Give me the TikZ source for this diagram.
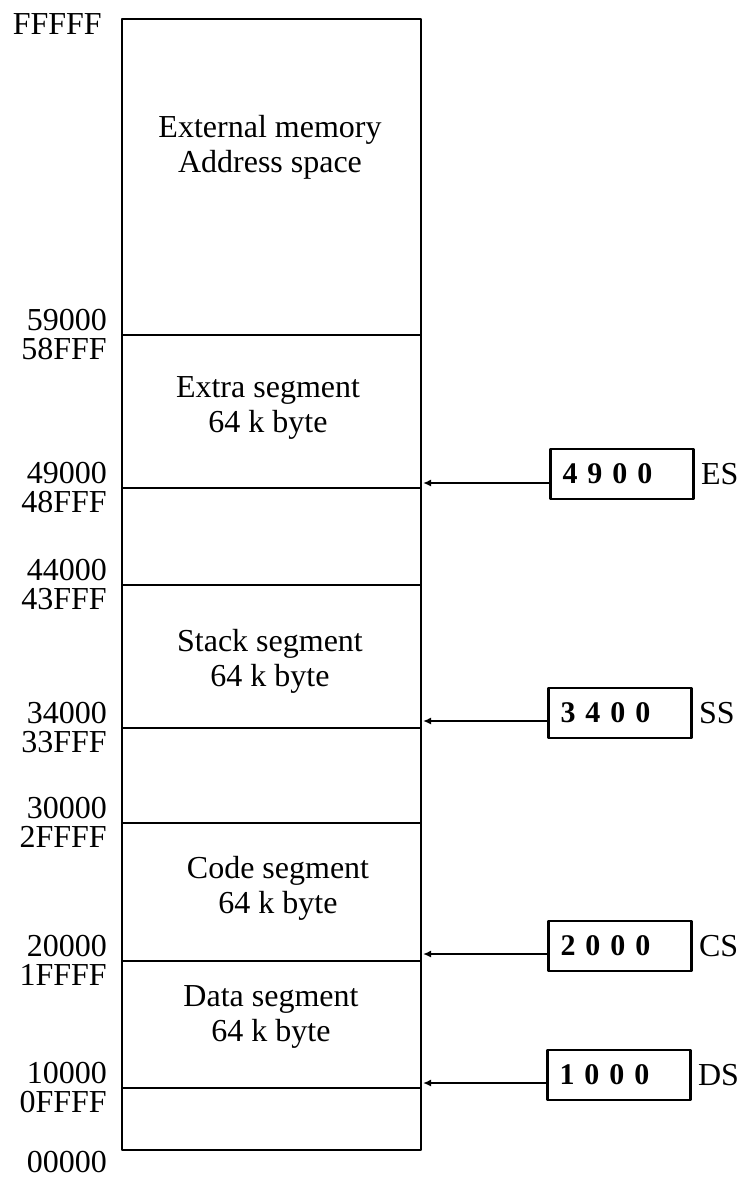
\documentclass[tikz,border=0pt]{standalone}
\usepackage{fontspec}
\setmainfont{Liberation Serif}
\usetikzlibrary{arrows.meta,positioning}

\tikzset{
    addr/.style={anchor=base east, inner sep=0pt, font=\fontsize{32}{35}\selectfont},
    seg/.style={align=center, inner sep=0pt, font=\fontsize{32}{35}\selectfont},
    reg/.style={draw, line width=2.6pt, minimum width=143pt, minimum height=50pt,
        text width=119pt, inner xsep=12pt, align=left,
        font=\fontsize{30}{32}\selectfont\bfseries},
    regname/.style={inner sep=0pt, font=\fontsize{32}{35}\selectfont},
    ptr/.style={line width=1.8pt, -{Latex[length=8pt,width=7pt]}},
}

\begin{document}
\begin{tikzpicture}[x=1pt, y=-1pt, line join=round]
    \useasboundingbox (0,0) rectangle (744,1180);

    % memory map
    \coordinate (top) at (122,19);
    \coordinate (bot) at (421,1150);
    \draw[line width=2.6pt] (top) rectangle (bot);
    \node[addr] (aFFFFF) at (102,35) {FFFFF};
    \node[addr] (a00000) at (107,1172) {00000};

    % segment boundaries
    \foreach \y/\hi/\lo in {335/59000/58FFF, 488/49000/48FFF, 585/44000/43FFF,
        728/34000/33FFF, 823/30000/2FFFF, 961/20000/1FFFF, 1088/10000/0FFFF} {
        \coordinate (l\hi) at (122,\y);
        \coordinate (r\hi) at (421,\y);
        \draw[line width=2pt] (l\hi) -- (r\hi);
        \node[addr] (a\hi) at (107,\y-5) {\hi};
        \node[addr] (a\lo) at (107,\y+24) {\lo};
    }

    % segment names
    \node[seg] (ext) at (270,147) {External memory\\Address space};
    \node[seg] (extra) at (268,408) {Extra segment\\64 k byte};
    \node[seg] (stack) at (270,661) {Stack segment\\64 k byte};
    \node[seg] (code) at (278,888) {Code segment\\64 k byte};
    \node[seg] (data) at (271,1017) {Data segment\\64 k byte};

    % segment registers
    \coordinate (es) at (423,483);
    \coordinate (ss) at (423,721);
    \coordinate (cs) at (423,954);
    \coordinate (ds) at (423,1083);

    \node[reg] (esreg) at (622,474) {4 9 0 0};
    \node[reg] (ssreg) at (620,713) {3 4 0 0};
    \node[reg] (csreg) at (620,946) {2 0 0 0};
    \node[reg] (dsreg) at (619,1075) {1 0 0 0};

    \node[regname, right=6pt of esreg] (esname) {ES};
    \node[regname, right=6pt of ssreg] (ssname) {SS};
    \node[regname, right=6pt of csreg] (csname) {CS};
    \node[regname, right=6pt of dsreg] (dsname) {DS};

    \draw[ptr] (esreg.west |- es) -- (es);
    \draw[ptr] (ssreg.west |- ss) -- (ss);
    \draw[ptr] (csreg.west |- cs) -- (cs);
    \draw[ptr] (dsreg.west |- ds) -- (ds);

\end{tikzpicture}
\end{document}
